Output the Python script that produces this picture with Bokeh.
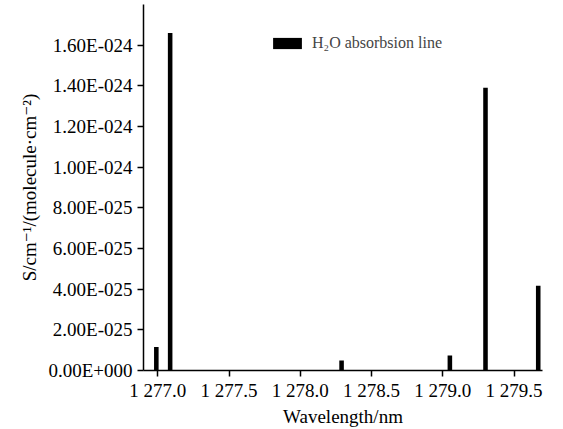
from bokeh.plotting import figure
from bokeh.models import FixedTicker, Range1d, Legend, LegendItem, ColumnDataSource
from bokeh.embed import file_html
from bokeh.resources import INLINE

# ---- data ----
wavelength = [1276.99, 1277.087, 1278.29, 1279.05, 1279.30, 1279.67]
strength = [1.16e-25, 1.66e-24, 4.9e-26, 7.4e-26, 1.39e-24, 4.17e-25]

x_ticks = [1277.0, 1277.5, 1278.0, 1278.5, 1279.0, 1279.5]
x_tick_labels = ["1 277.0", "1 277.5", "1 278.0", "1 278.5", "1 279.0", "1 279.5"]
y_ticks = [0.0, 2e-25, 4e-25, 6e-25, 8e-25, 1e-24, 1.2e-24, 1.4e-24, 1.6e-24]
y_tick_labels = ["0.00E+000", "2.00E-025", "4.00E-025", "6.00E-025", "8.00E-025",
                 "1.00E-024", "1.20E-024", "1.40E-024", "1.60E-024"]
series_name = "H\u2082O absorbsion line"
x_title = "Wavelength/nm"
y_title = "S/cm\u207b\u00b9/(molecule\u00b7cm\u207b\u00b2)"

FONT = "Liberation Serif"
FONT_STACK = "'Liberation Serif', 'DejaVu Serif', serif"

x_start, x_end = 1276.90, 1279.70
y_start, y_end = 0.0, 1.8e-24

p = figure(width=563, height=429, output_backend="svg", toolbar_location=None,
           x_range=Range1d(x_start, x_end), y_range=Range1d(y_start, y_end),
           min_border_left=143, min_border_right=21, min_border_top=4,
           min_border_bottom=58)
p.outline_line_color = None
p.xgrid.grid_line_color = None
p.ygrid.grid_line_color = None
p.background_fill_color = "white"
p.border_fill_color = "white"

src = ColumnDataSource(dict(x=wavelength, top=strength))
r = p.vbar(x="x", top="top", bottom=0, width=0.032, source=src,
           fill_color="black", line_color=None)

# axes
p.xaxis.ticker = FixedTicker(ticks=x_ticks)
p.xaxis.major_label_overrides = dict(zip(x_ticks, x_tick_labels))
p.yaxis.ticker = FixedTicker(ticks=y_ticks)
p.yaxis.major_label_overrides = dict(zip(y_ticks, y_tick_labels))
for ax in (p.xaxis[0], p.yaxis[0]):
    ax.minor_tick_line_color = None
    ax.major_tick_in = 0
    ax.major_tick_out = 6
    ax.axis_line_color = "black"
    ax.axis_line_width = 1.5
    ax.major_tick_line_color = "black"
    ax.major_tick_line_width = 1.5
    ax.major_label_text_font = FONT
    ax.major_label_text_font_size = "19px"
    ax.major_label_text_color = "black"
    ax.axis_label_text_font = FONT_STACK
    ax.axis_label_text_font_style = "normal"
    ax.axis_label_text_font_size = "19px"
    ax.axis_label_text_color = "black"
p.xaxis.major_label_standoff = 3
p.yaxis.major_label_standoff = 5
p.xaxis.axis_label = x_title
p.xaxis.axis_label_standoff = 2
p.yaxis.axis_label = y_title
p.yaxis.axis_label_standoff = 5

legend = Legend(items=[LegendItem(label=series_name, renderers=[r])],
                location=(126, 318), padding=0, margin=0, spacing=0,
                glyph_width=36, glyph_height=14, label_standoff=7,
                label_text_font=FONT_STACK, label_text_font_size="16px",
                border_line_color=None, background_fill_alpha=0)
p.add_layout(legend)

open("out.html", "w").write(file_html(p, INLINE))
